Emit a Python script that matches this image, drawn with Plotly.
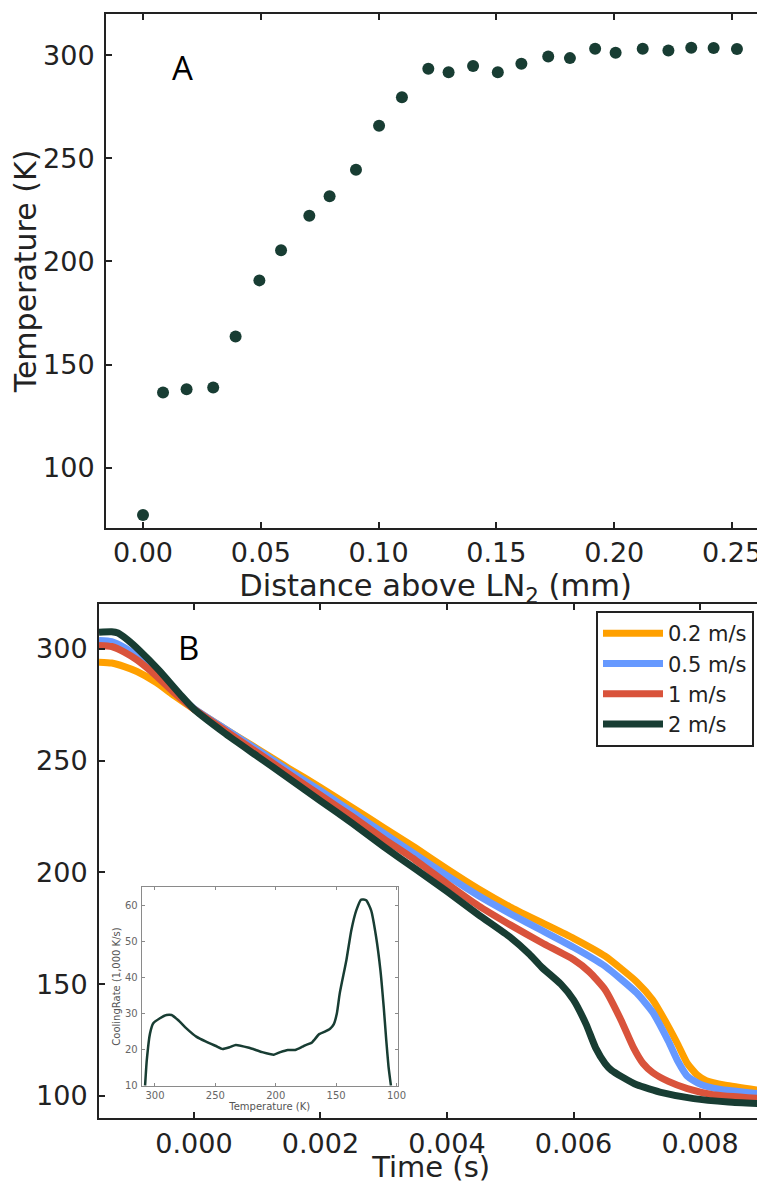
import plotly.graph_objects as go

# Panel A: temperature above the liquid nitrogen surface
dist_mm = [0.000, 0.0085, 0.0185, 0.0298, 0.0393, 0.0494, 0.0586, 0.0706, 0.0792, 0.0904,
           0.1002, 0.1099, 0.1211, 0.1297, 0.1401, 0.1506, 0.1606, 0.1720, 0.1812, 0.1919,
           0.2006, 0.2121, 0.2230, 0.2327, 0.2422, 0.2521]
temp_k = [77.0, 136.4, 138.0, 138.8, 163.6, 190.8, 205.4, 222.2, 231.6, 244.5,
          265.8, 279.6, 293.5, 291.8, 294.8, 291.8, 295.9, 299.4, 298.6, 303.1,
          301.2, 303.1, 302.3, 303.6, 303.5, 303.0]

# Panel B: cooling curves for four plunge speeds (time in s, temperature in K)
speed_labels = ["0.2 m/s", "0.5 m/s", "1 m/s", "2 m/s"]

t_02 = [-0.0015, -0.0013, -0.0011, -0.0009, -0.0006, -0.0003, 0.0, 0.0005, 0.001, 0.0015,
        0.002, 0.0025, 0.003, 0.0035, 0.004, 0.0045, 0.005, 0.0055, 0.006, 0.0065,
        0.007, 0.00725, 0.0075, 0.00765, 0.0078, 0.00795, 0.0081, 0.0084, 0.009]
T_02 = [294.0, 293.6, 292.0, 289.8, 285.0, 278.8, 273.0, 264.0, 255.3, 246.5,
        238.0, 229.0, 220.0, 211.0, 201.5, 192.5, 184.5, 177.5, 170.5, 162.5,
        151.0, 143.0, 131.0, 123.0, 114.5, 109.5, 106.8, 104.8, 102.3]

t_05 = [-0.0015, -0.0013, -0.0011, -0.0009, -0.0006, -0.0003, 0.0, 0.0005, 0.001, 0.0015,
        0.002, 0.0025, 0.003, 0.0035, 0.004, 0.0045, 0.005, 0.0055, 0.006, 0.0065,
        0.007, 0.00725, 0.0075, 0.00765, 0.0078, 0.008, 0.0083, 0.009]
T_05 = [303.7, 303.2, 300.5, 296.5, 289.0, 280.5, 273.3, 264.0, 254.8, 245.5,
        236.5, 227.0, 217.5, 208.0, 198.5, 189.5, 181.5, 174.0, 166.5, 158.0,
        146.0, 137.5, 124.5, 115.5, 108.8, 105.3, 103.0, 100.8]

t_1 = [-0.0015, -0.0013, -0.0011, -0.0009, -0.0006, -0.0003, 0.0, 0.0005, 0.001, 0.0015,
       0.002, 0.0025, 0.003, 0.0035, 0.004, 0.0045, 0.005, 0.0055, 0.006, 0.00625,
       0.0065, 0.00675, 0.00695, 0.0071, 0.00725, 0.0075, 0.0078, 0.0082, 0.009]
T_1 = [301.5, 301.0, 298.5, 295.0, 288.0, 280.0, 273.0, 263.3, 253.6, 244.0,
       234.5, 225.0, 215.0, 205.5, 195.0, 185.0, 176.5, 168.5, 161.0, 155.5,
       147.5, 134.0, 121.5, 114.5, 110.5, 106.5, 103.3, 100.6, 98.8]

t_2 = [-0.0015, -0.0013, -0.0012, -0.00105, -0.00086, -0.00055, -0.0002, 0.0, 0.0005, 0.001,
       0.0015, 0.002, 0.0025, 0.003, 0.0035, 0.004, 0.0045, 0.005, 0.0053, 0.0055,
       0.0058, 0.006, 0.0062, 0.00635, 0.0065, 0.0066, 0.00677, 0.007, 0.0074, 0.0079,
       0.00845, 0.009]
T_2 = [307.4, 307.6, 307.0, 304.0, 299.2, 290.3, 279.0, 273.0, 262.0, 252.0,
       242.0, 232.0, 222.0, 211.5, 201.5, 191.5, 181.0, 171.0, 163.5, 157.5,
       150.0, 143.0, 132.0, 121.5, 114.5, 111.5, 108.5, 105.0, 101.5, 98.8,
       97.3, 96.5]

# Inset: cooling rate vs temperature (2 m/s)
inset_temp = [308.2, 306.8, 304.1, 301.4, 295.9, 290.4, 286.3, 280.9, 274.0, 265.8, 257.7,
              249.5, 244.0, 238.0, 233.1, 222.1, 211.2, 201.6, 196.2, 190.0, 183.9, 178.0,
              175.7, 170.0, 164.0, 159.3, 155.0, 152.0, 149.4, 147.0, 141.5, 137.4, 133.3,
              129.2, 125.1, 121.0, 116.9, 113.3, 110.6, 108.5, 106.6, 104.6]
inset_rate = [10.0, 17.0, 24.5, 27.3, 28.7, 29.6, 29.6, 28.2, 25.9, 23.6, 22.2,
              21.0, 20.2, 20.7, 21.3, 20.5, 19.3, 18.6, 19.3, 19.9, 19.9, 20.8,
              21.2, 22.0, 24.3, 25.0, 25.8, 27.0, 30.0, 35.6, 44.8, 53.1, 58.6,
              61.6, 61.4, 58.6, 51.3, 42.0, 31.9, 22.7, 15.3, 10.0]

DARK = "#183d33"
colors = ["#ffa000", "#6699ff", "#d9533b", DARK]
FONT = "DejaVu Sans"

# the page body keeps its default 8px margin, so the figure is drawn 8px in from the corner
PAGE_PAD = 8
W, H = 765 - PAGE_PAD, 1184 - PAGE_PAD


def px_x(x):
    return (x - PAGE_PAD) / W


def px_y(y):
    return 1 - (y - PAGE_PAD) / H


fig = go.Figure()

fig.add_trace(go.Scatter(x=dist_mm, y=temp_k, mode="markers", showlegend=False,
                         marker=dict(size=12, color=DARK), xaxis="x", yaxis="y"))

for t, T, name, c in zip([t_02, t_05, t_1, t_2], [T_02, T_05, T_1, T_2], speed_labels, colors):
    fig.add_trace(go.Scatter(x=t, y=T, mode="lines", name=name,
                             line=dict(color=c, width=7, shape="spline", smoothing=0.5),
                             xaxis="x2", yaxis="y2"))

fig.add_trace(go.Scatter(x=inset_temp, y=inset_rate, mode="lines", showlegend=False,
                         line=dict(color=DARK, width=2.5, shape="spline", smoothing=0.5),
                         xaxis="x3", yaxis="y3"))


def main_axis(**kw):
    d = dict(showline=True, mirror="ticks", linecolor="#222", linewidth=2,
             ticks="inside", ticklen=6, tickwidth=1.5, tickcolor="#222",
             showgrid=False, zeroline=False, automargin=False,
             tickfont=dict(family=FONT, size=27, color="#222"))
    d.update(kw)
    return d


def inset_axis(**kw):
    d = dict(showline=True, mirror="ticks", linecolor="#8a8a8a", linewidth=1,
             ticks="inside", ticklen=3, tickcolor="#8a8a8a", showgrid=False,
             zeroline=False, automargin=False,
             tickfont=dict(family=FONT, size=10, color="#666"))
    d.update(kw)
    return d


fig.update_layout(
    width=W, height=H,
    margin=dict(l=0, r=0, t=0, b=0, pad=0),
    paper_bgcolor="white", plot_bgcolor="white",
    font=dict(family=FONT, color="#222"),
    xaxis=main_axis(domain=[px_x(106), 1.0], range=[-0.0157, 0.264], dtick=0.05, tick0=0,
                    tickformat=".2f", anchor="y",
                    title=dict(text="Distance above LN<sub>2</sub> (mm)",
                               font=dict(family=FONT, size=30.5), standoff=0)),
    yaxis=main_axis(domain=[px_y(528), px_y(14)], range=[70.7, 320], dtick=50,
                    anchor="x", ticklabelstandoff=4,
                    title=dict(text="Temperature (K)", font=dict(family=FONT, size=30),
                               standoff=12)),
    xaxis2=main_axis(domain=[px_x(99), px_x(763.3)], range=[-0.0015, 0.009], dtick=0.002,
                     tick0=0, tickformat=".3f", anchor="y2",
                     title=dict(text="Time (s)", font=dict(family=FONT, size=29), standoff=3)),
    yaxis2=main_axis(domain=[px_y(1118.3), px_y(604)], range=[90, 320], dtick=50,
                     anchor="x2", ticklabelstandoff=4),
    xaxis3=inset_axis(domain=[px_x(141.7), px_x(397.7)], range=[311, 99], dtick=50,
                      anchor="y3",
                      title=dict(text="Temperature (K)",
                                 font=dict(family=FONT, size=10, color="#555"), standoff=0)),
    yaxis3=inset_axis(domain=[px_y(1085.7), px_y(887.3)], range=[10, 65], dtick=10,
                      anchor="x3", ticklabelstandoff=1,
                      title=dict(text="CoolingRate (1,000 K/s)",
                                 font=dict(family=FONT, size=10, color="#555"), standoff=2)),
    legend=dict(x=px_x(754), xanchor="right", y=px_y(611), yanchor="top",
                bgcolor="white", bordercolor="#222", borderwidth=2,
                font=dict(family=FONT, size=21, color="#222"),
                itemwidth=60, tracegroupgap=0),
    annotations=[
        dict(text="A", x=px_x(182), y=px_y(68), xref="paper", yref="paper",
             xanchor="center", yanchor="middle", showarrow=False,
             font=dict(family="Open Sans", size=33, color="black")),
        dict(text="B", x=px_x(188), y=px_y(647), xref="paper", yref="paper",
             xanchor="center", yanchor="middle", showarrow=False,
             font=dict(family="Open Sans", size=33, color="black")),
    ],
)

fig.write_html("out.html")
